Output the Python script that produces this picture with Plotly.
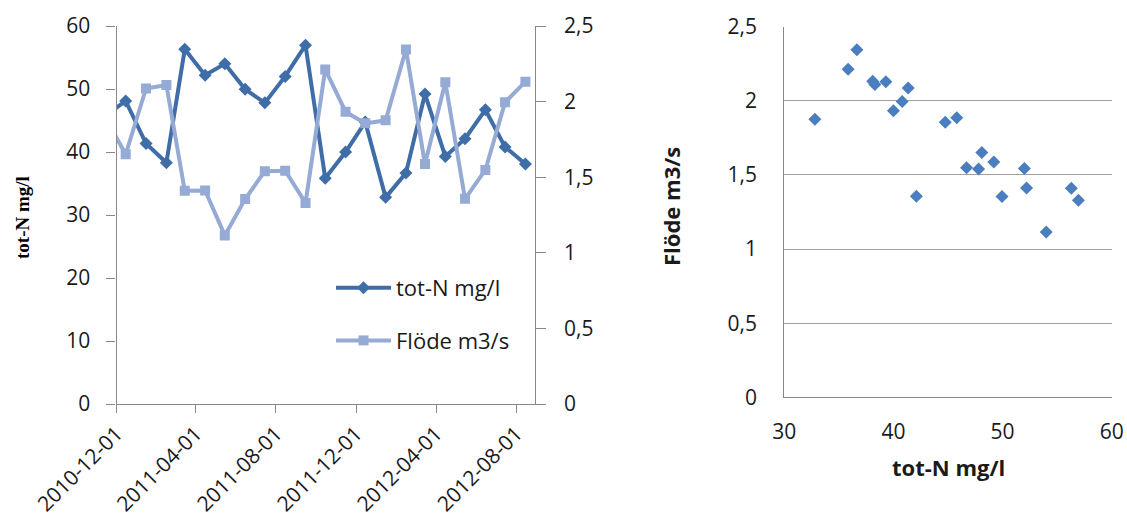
import plotly.graph_objects as go

# ---------------- data ----------------
dates = ['2010-11-15', '2010-12-15', '2011-01-15', '2011-02-15', '2011-03-15',
         '2011-04-15', '2011-05-15', '2011-06-15', '2011-07-15', '2011-08-15',
         '2011-09-15', '2011-10-15', '2011-11-15', '2011-12-15', '2012-01-15',
         '2012-02-15', '2012-03-15', '2012-04-15', '2012-05-15', '2012-06-15',
         '2012-07-15', '2012-08-15']
tot_n = [45.8, 48.1, 41.35, 38.3, 56.3, 52.2, 54.0, 49.95, 47.8, 52.0, 56.95,
         35.85, 40.0, 44.75, 32.8, 36.65, 49.2, 39.3, 42.1, 46.7, 40.8, 38.1]
flode = [1.885, 1.652, 2.087, 2.11, 1.41, 1.412, 1.115, 1.355, 1.54, 1.543, 1.33,
         2.213, 1.933, 1.856, 1.876, 2.345, 1.587, 2.128, 1.357, 1.548, 1.995, 2.132]

date_ticks = ['2010-12-01', '2011-04-01', '2011-08-01', '2011-12-01', '2012-04-01', '2012-08-01']
n_ticks = [0, 10, 20, 30, 40, 50, 60]
flow_ticks = [0, 0.5, 1, 1.5, 2, 2.5]
flow_tick_text = ['0', '0,5', '1', '1,5', '2', '2,5']
scatter_x_ticks = [30, 40, 50, 60]

name_n = 'tot-N mg/l'
name_q = 'Flöde m3/s'

# ---------------- styling ----------------
W, H = 1127, 517
def fx(p):
    return p / W
def fy(p):
    return 1 - p / H

DARK = '#3F6DA7'
LIGHT = '#95AAD4'
SCAT = '#4A7EBE'
AXIS = '#888888'
GRID = '#A0A0A0'
FONT = 'Open Sans'
TXT = '#1a1a1a'

fig = go.Figure()

fig.add_trace(go.Scatter(
    x=dates, y=tot_n, name=name_n, mode='lines+markers', legendgroup='a',
    line=dict(color=DARK, width=4), marker=dict(symbol='diamond', size=10, color=DARK),
    xaxis='x', yaxis='y'))
fig.add_trace(go.Scatter(
    x=dates, y=flode, name=name_q, mode='lines+markers', legendgroup='b',
    line=dict(color=LIGHT, width=4), marker=dict(symbol='square', size=10, color=LIGHT),
    xaxis='x', yaxis='y2'))
fig.add_trace(go.Scatter(
    x=tot_n, y=flode, mode='markers', showlegend=False,
    marker=dict(symbol='diamond', size=10, color=SCAT),
    xaxis='x2', yaxis='y3'))

tickfont = dict(family=FONT, size=21, color=TXT)

fig.update_layout(
    template='none',
    width=W, height=H,
    margin=dict(l=0, r=0, t=0, b=0, autoexpand=False),
    paper_bgcolor='white', plot_bgcolor='white',
    separators=', ',
    font=dict(family=FONT, color=TXT),
    xaxis=dict(
        domain=[fx(116.5), fx(534.6)], anchor='y', type='date', automargin=False,
        range=['2010-12-01', '2012-08-29'],
        tickvals=date_ticks, ticktext=date_ticks, tickangle=-45,
        tickfont=tickfont, showgrid=False, zeroline=False,
        showline=True, linecolor=AXIS, linewidth=1.3,
        ticks='outside', ticklen=8, tickcolor=AXIS),
    yaxis=dict(
        domain=[fy(404), fy(26)], anchor='x', range=[0, 60], tickvals=n_ticks, automargin=False,
        tickfont=tickfont, showgrid=False, zeroline=False,
        showline=True, linecolor=AXIS, linewidth=1.3,
        ticks='outside', ticklen=9, tickcolor=AXIS, ticklabelstandoff=12),
    yaxis2=dict(
        overlaying='y', anchor='x', side='right', range=[0, 2.5], automargin=False,
        tickvals=flow_ticks, ticktext=flow_tick_text,
        tickfont=tickfont, showgrid=False, zeroline=False,
        showline=True, linecolor=AXIS, linewidth=1.3,
        ticks='outside', ticklen=10, tickcolor=AXIS, ticklabelstandoff=14),
    xaxis2=dict(
        domain=[fx(784.3), fx(1111.7)], anchor='y3', range=[30, 60], automargin=False,
        tickvals=scatter_x_ticks, tickfont=tickfont, showgrid=False, zeroline=False,
        showline=True, linecolor=AXIS, linewidth=1.3, ticks='', ticklabelstandoff=15),
    yaxis3=dict(
        domain=[fy(397.3), fy(26.7)], anchor='x2', range=[0, 2.5], automargin=False,
        tickvals=flow_ticks, ticktext=flow_tick_text, tickfont=tickfont,
        showgrid=True, gridcolor=GRID, gridwidth=1.2, zeroline=False,
        showline=True, linecolor=AXIS, linewidth=1.3, ticks='', ticklabelstandoff=22),
    legend=dict(
        x=fx(331), xanchor='left', y=fy(267), yanchor='top',
        font=dict(family=FONT, size=22, color=TXT),
        bgcolor='rgba(0,0,0,0)', itemwidth=55, traceorder='grouped',
        tracegroupgap=21),
    showlegend=True,
    annotations=[
        dict(text='<b>tot-N mg/l</b>', textangle=-90, x=fx(22), y=fy(218),
             xref='paper', yref='paper', showarrow=False, xanchor='center', yanchor='middle',
             font=dict(family='Liberation Serif', size=19, color='#000')),
        dict(text='<b>Flöde m3/s</b>', textangle=-90, x=fx(671), y=fy(207),
             xref='paper', yref='paper', showarrow=False, xanchor='center', yanchor='middle',
             font=dict(family=FONT, size=22, color=TXT)),
        dict(text='<b>tot-N mg/l</b>', x=fx(948), y=fy(467),
             xref='paper', yref='paper', showarrow=False, xanchor='center', yanchor='middle',
             font=dict(family=FONT, size=22, color=TXT)),
    ],
)

fig.write_html('out.html')
